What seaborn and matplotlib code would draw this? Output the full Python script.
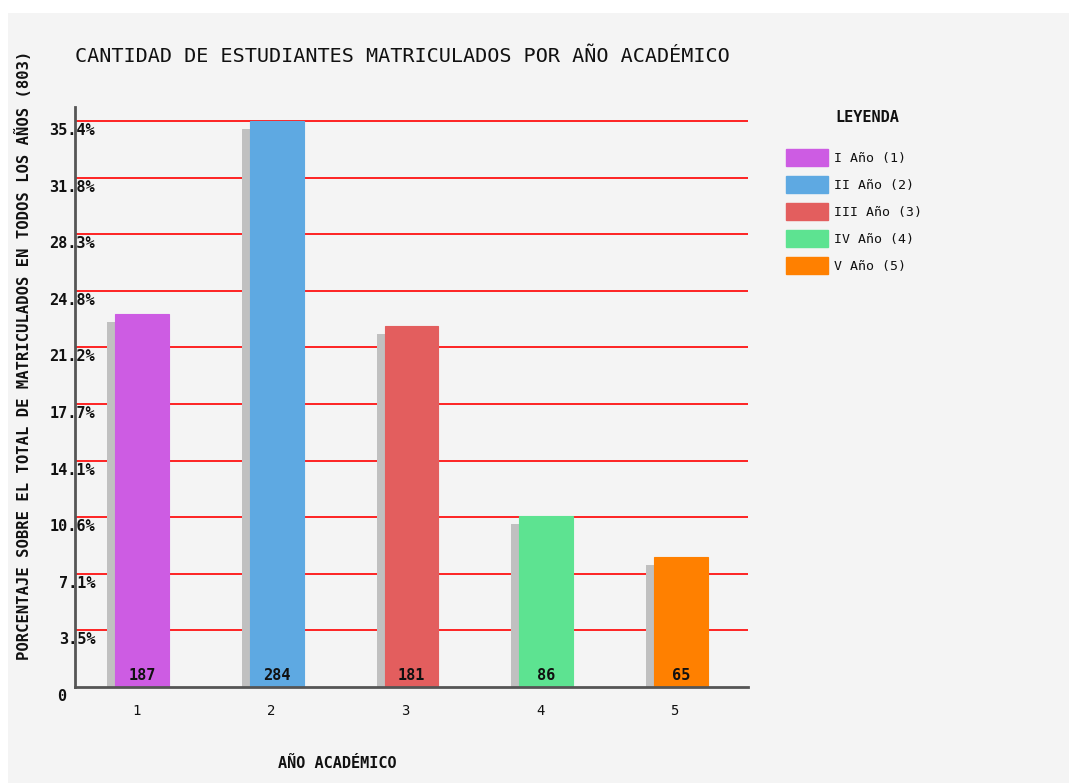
import matplotlib
matplotlib.use("Agg")
import matplotlib.pyplot as plt
import matplotlib.transforms as mtransforms
from matplotlib.patches import Patch, Rectangle
import seaborn as sns
import pandas as pd

# ---- data ----
categories = ["1", "2", "3", "4", "5"]
counts = [187, 284, 181, 86, 65]
legend_labels = ["I Año (1)", "II Año (2)", "III Año (3)", "IV Año (4)", "V Año (5)"]
colors = ["#cd5ce3", "#5ea9e2", "#e35e5e", "#5de391", "#ff8000"]
total = sum(counts)
percent = [c / total * 100 for c in counts]
ymax = max(percent)
tick_values = [ymax * i / 10 for i in range(0, 11)]
tick_labels = ["0"] + [f"{v:.1f}%" for v in tick_values[1:]]

title = "CANTIDAD DE ESTUDIANTES MATRICULADOS POR AÑO ACADÉMICO"
ylabel = f"PORCENTAJE SOBRE EL TOTAL DE MATRICULADOS EN TODOS LOS AÑOS ({total})"
xlabel = "AÑO ACADÉMICO"
legend_title = "LEYENDA"

df = pd.DataFrame({"cat": categories, "pct": percent, "count": counts})

sns.set_theme(style="white")
plt.rcParams["font.family"] = ["DejaVu Sans Mono", "DejaVu Sans"]

W, H = 1069, 783
fig = plt.figure(figsize=(W / 100, H / 100), dpi=100, facecolor="white")
fig.patches.append(Rectangle((8 / W, 0), 1 - 8 / W, (H - 13) / H,
                             transform=fig.transFigure, facecolor="#f4f4f4",
                             edgecolor="none", zorder=-5))
ax = fig.add_axes([75 / W, (H - 687) / H, (748 - 75) / W, (687 - 107) / H])
ax.set_facecolor("none")
ax.set_zorder(1)

px = lambda dx, dy: mtransforms.ScaledTranslation(dx / 100, dy / 100, fig.dpi_scale_trans)

# shadow bars
sns.barplot(data=df, x="cat", y="pct", color="#c0c0c0", width=0.4,
            saturation=1, ax=ax, zorder=2)
for p in ax.patches:
    p.set_transform(p.get_data_transform() + px(-8, -8))
    p.set_edgecolor("none")
n_shadow = len(ax.patches)

# main bars
sns.barplot(data=df, x="cat", y="pct", hue="cat", palette=colors, width=0.4,
            saturation=1, legend=False, ax=ax, zorder=3)
for p, c in zip(ax.patches[n_shadow:], colors):
    p.set_edgecolor(c)
    p.set_linewidth(0.8)

ax.set_ylim(0, ymax * 36.25 / 35.37)
ax.set_xlim(-0.5, 4.5)

# gridlines
for v in tick_values[1:]:
    ax.axhline(v, color="#ff0000", lw=1.2, zorder=1)

# value labels
for i, c in enumerate(counts):
    ax.text(i, 0, str(c), ha="center", va="bottom", fontsize=11,
            fontweight="bold", color="#111111", zorder=5,
            transform=ax.transData + px(0, 4))

# y tick labels
ax.set_yticks([])
ytrans = mtransforms.blended_transform_factory(ax.transAxes, ax.transData)
for v, lab in zip(tick_values, tick_labels):
    xpos = -0.013 if v == 0 else 0.03
    ax.text(xpos, v, lab, ha="right", va="top", fontsize=11, fontweight="bold",
            color="#111111", transform=ytrans + px(0, -2), clip_on=False, zorder=1)

# x ticks
ax.set_xticks(range(len(categories)))
ax.set_xticklabels(categories, fontsize=10, color="#111111")
ax.tick_params(axis="x", length=0, pad=12)
for lbl in ax.get_xticklabels():
    lbl.set_transform(lbl.get_transform() + px(-6, 0))

# spines
for s in ["top", "right"]:
    ax.spines[s].set_visible(False)
for s in ["left", "bottom"]:
    ax.spines[s].set_color("#555555")
    ax.spines[s].set_linewidth(2)
    ax.spines[s].set_zorder(4)

ax.set_xlabel("")
ax.set_ylabel("")

fig.text(75 / W, 1 - 57 / H, title, ha="left", va="center", fontsize=14.5, color="#111111")
fig.text(24 / W, 1 - 355 / H, ylabel, rotation=90, ha="center", va="center",
         fontsize=11.2, fontweight="bold", color="#111111")
fig.text(337 / W, 1 - 763 / H, xlabel, ha="center", va="center",
         fontsize=11, fontweight="bold", color="#111111")

# legend
fig.text(867 / W, 1 - 117 / H, legend_title, ha="center", va="center",
         fontsize=11, fontweight="bold", color="#111111")
handles = [Patch(facecolor=c, edgecolor=c) for c in colors]
leg = fig.legend(handles, legend_labels, loc="upper left",
                 bbox_to_anchor=(786 / W, 1 - 149 / H), frameon=False,
                 fontsize=9.5, handlelength=3.2, handleheight=1.55,
                 labelspacing=0.8, handletextpad=0.45, borderaxespad=0,
                 borderpad=0)
for t in leg.get_texts():
    t.set_color("#111111")

fig.savefig("out.png", dpi=100, facecolor=fig.get_facecolor())
